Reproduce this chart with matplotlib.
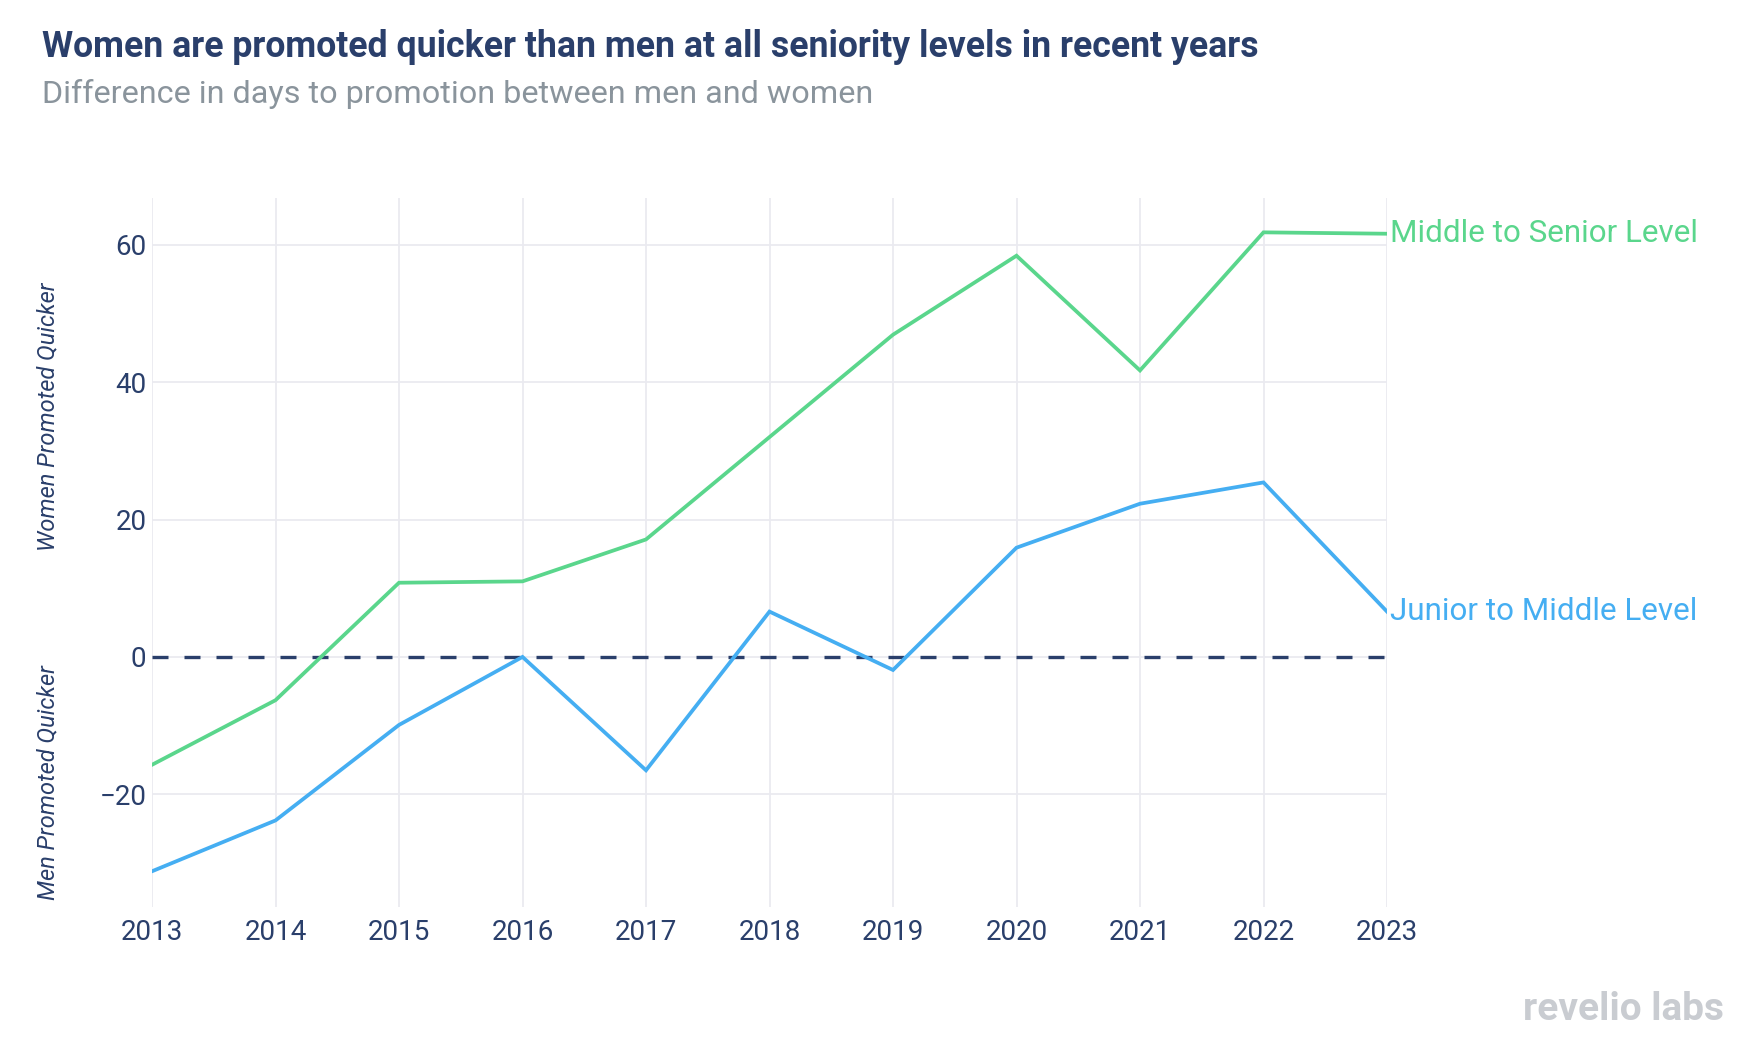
import matplotlib.pyplot as plt

years = [2013, 2014, 2015, 2016, 2017, 2018, 2019, 2020, 2021, 2022, 2023]
middle_to_senior = [-15.7, -6.3, 10.8, 11.0, 17.1, 32.0, 46.9, 58.4, 41.7, 61.8, 61.6]
junior_to_middle = [-31.2, -23.8, -9.9, 0.0, -16.5, 6.6, -1.9, 15.9, 22.3, 25.4, 6.6]
y_ticks = [-20, 0, 20, 40, 60]

green = '#5AD68C'
blue = '#45AEF2'
navy = '#2A3F6B'
grid = '#EAEAF0'

plt.rcParams['font.family'] = ['Roboto', 'DejaVu Sans']

fig = plt.figure(figsize=(17.44, 10.44), dpi=100)
ax = fig.add_axes([152 / 1744, 1 - 907 / 1044, (1387 - 152) / 1744, (907 - 198) / 1044])

ax.plot(years, middle_to_senior, color=green, lw=2.7, solid_joinstyle='miter', zorder=3)
ax.plot(years, junior_to_middle, color=blue, lw=2.7, solid_joinstyle='miter', zorder=3)
ax.axhline(0, color=navy, lw=2.4, linestyle=(0, (4.8, 4.8)), zorder=2)

ax.set_xlim(2013, 2023)
ax.set_ylim(-36.4, 66.8)
ax.set_xticks(years)
ax.set_yticks(y_ticks)
ax.set_yticklabels(['\u221220', '0', '20', '40', '60'])
ax.grid(True, color=grid, lw=1.3, zorder=0)
ax.tick_params(length=0, labelsize=20, labelcolor=navy)
ax.tick_params(axis='x', pad=9)
ax.tick_params(axis='y', pad=4)
for s in ax.spines.values():
    s.set_visible(False)

# series labels at the line ends
ax.annotate('Middle to Senior Level', xy=(years[-1], middle_to_senior[-1]), xytext=(2, 0),
            textcoords='offset points', color=green, fontsize=22.6, va='center', ha='left',
            annotation_clip=False)
ax.annotate('Junior to Middle Level', xy=(years[-1], junior_to_middle[-1]), xytext=(2, 0),
            textcoords='offset points', color=blue, fontsize=22.6, va='center', ha='left',
            annotation_clip=False)

fig.text(48 / 1744, 1 - 417 / 1044, 'Women Promoted Quicker', rotation=90, style='italic',
         fontsize=17, color=navy, ha='center', va='center')
fig.text(48 / 1744, 1 - 783 / 1044, 'Men Promoted Quicker', rotation=90, style='italic',
         fontsize=17, color=navy, ha='center', va='center')

fig.text(42 / 1744, 1 - 47 / 1044, 'Women are promoted quicker than men at all seniority levels in recent years',
         fontsize=25.7, fontweight='bold', color=navy, ha='left', va='center')
fig.text(42 / 1744, 1 - 94 / 1044, 'Difference in days to promotion between men and women',
         fontsize=23.3, color='#8A949C', ha='left', va='center')

fig.text(1724 / 1744, 1 - 1010 / 1044, 'revelio labs', fontsize=28, fontweight='bold',
         color='#C9CCD1', ha='right', va='center')

fig.savefig('out.png', dpi=100, facecolor='white')
